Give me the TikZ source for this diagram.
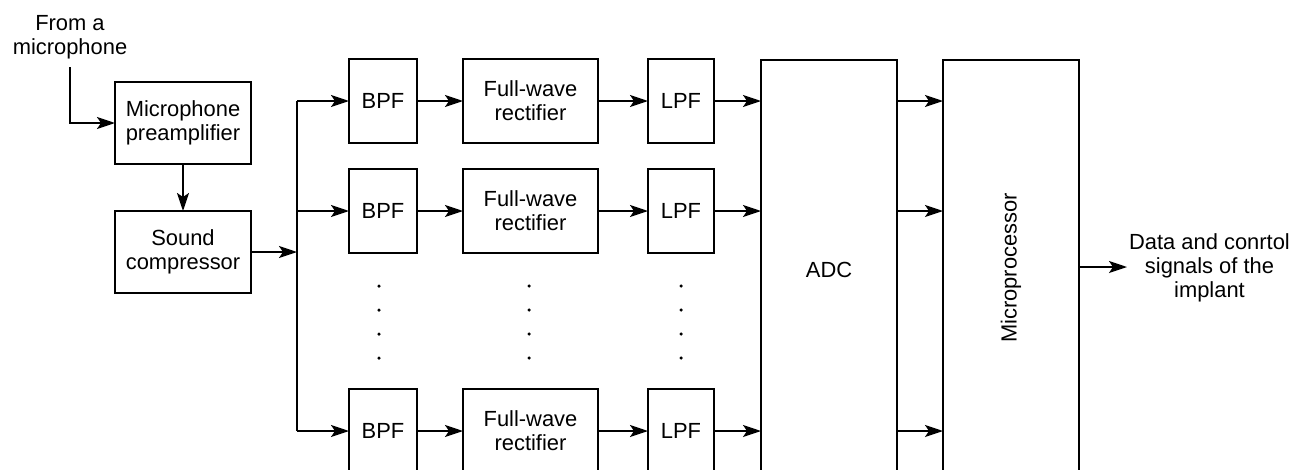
\documentclass[tikz,border=0pt]{standalone}
\usepackage{fontspec}
\setmainfont{Liberation Sans}
\usetikzlibrary{arrows.meta}
\begin{document}
\begin{tikzpicture}[x=1pt,y=-1pt,
  txt/.style={font=\fontsize{21.9}{24}\selectfont, align=center},
  blk/.style={draw, line width=2.5pt, inner sep=0pt, outer sep=0pt, txt},
  lbl/.style={inner sep=0pt, txt},
  wire/.style={line width=2.1pt},
  conn/.style={line width=2.1pt, -{Stealth[length=18pt,width=12pt,inset=4pt]}},
  dotm/.style={fill, circle, inner sep=0pt, minimum size=3.5pt}]
\clip (0,0) rectangle (1292,469);
% left chain
\node[lbl] (src) at (70,37) {From a\\microphone};
\node[blk, minimum width=136pt, minimum height=82pt] (pre) at (183,123) {Microphone\\preamplifier};
\node[blk, minimum width=136pt, minimum height=82pt] (comp) at (183,252) {Sound\\compressor};
\coordinate (srcend) at (70,67);
\draw[conn] (srcend) |- (pre.west);
\draw[conn] (pre.south) -- (comp.north);
% bus
\coordinate (bus) at (297,252);
\coordinate (b1) at (297,101);
\coordinate (b2) at (297,211);
\coordinate (b3) at (297,431);
\draw[conn] (comp.east) -- (bus);
\draw[wire] (b1) -- (b3);
% rows
\foreach \r/\y in {1/101, 2/211, 3/431} {
  \node[blk, minimum width=68pt, minimum height=84pt] (bpf\r) at (383,\y) {BPF};
  \node[blk, minimum width=135pt, minimum height=84pt] (fwr\r) at (530.5,\y) {Full-wave\\rectifier};
  \node[blk, minimum width=66pt, minimum height=84pt] (lpf\r) at (681,\y) {LPF};
  \draw[conn] (b\r) -- (bpf\r.west);
  \draw[conn] (bpf\r.east) -- (fwr\r.west);
  \draw[conn] (fwr\r.east) -- (lpf\r.west);
}
\node[blk, minimum width=136pt, minimum height=420pt] (adc) at (829,270) {ADC};
\node[blk, minimum width=136pt, minimum height=420pt] (mp) at (1011,270) {};
\node[lbl, rotate=90] (mplbl) at (1011,268) {Microprocessor};
\foreach \r in {1,2,3} {
  \draw[conn] (lpf\r.east) -- (adc.west |- lpf\r.east);
  \draw[conn] (adc.east |- lpf\r.east) -- (mp.west |- lpf\r.east);
}
% dots
\foreach \x in {379,529,681} {
  \foreach \yy in {286,310,334,358} {
    \node[dotm] at (\x,\yy) {};
  }
}
% output
\node[lbl] (out) at (1209.5,268) {Data and conrtol\\signals of the\\implant};
\draw[conn] (mp.east |- 0,267) -- (1127,267);
\end{tikzpicture}
\end{document}
